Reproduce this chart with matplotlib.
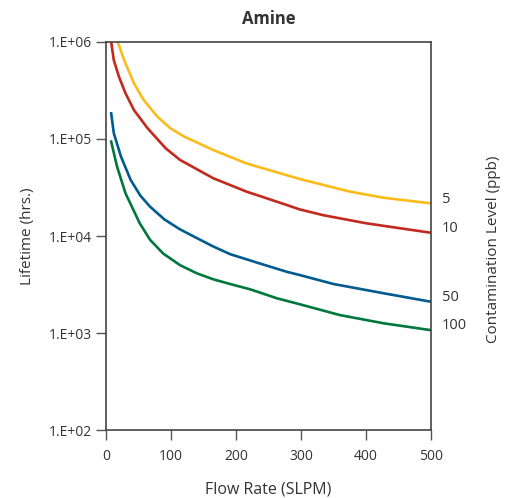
import matplotlib
matplotlib.use("Agg")
from matplotlib import pyplot as plt
from matplotlib.ticker import FixedLocator, NullLocator

plt.rcParams['font.family'] = ['Open Sans', 'DejaVu Sans']

# 5 ppb
x_5 = [18, 28, 43, 58, 79, 99, 120, 165, 216, 268, 298, 375, 427, 500]
y_5 = [1.0e6, 6.5e5, 3.75e5, 2.52e5, 1.7e5, 1.29e5, 1.06e5, 7.7e4, 5.6e4, 4.43e4, 3.87e4,
       2.87e4, 2.48e4, 2.17e4]
# 10 ppb
x_10 = [8, 12, 20, 30, 43, 64, 92, 114, 165, 216, 268, 298, 334, 401, 500]
y_10 = [1.0e6, 6.5e5, 4.38e5, 2.96e5, 1.99e5, 1.29e5, 8.0e4, 6.08e4, 3.94e4, 2.87e4, 2.2e4,
        1.88e4, 1.64e4, 1.35e4, 1.08e4]
# 50 ppb
x_50 = [8, 12, 23, 38, 53, 68, 90, 114, 140, 165, 191, 237, 278, 298, 350, 427, 500]
y_50 = [1.84e5, 1.15e5, 6.6e4, 3.78e4, 2.6e4, 2.0e4, 1.48e4, 1.17e4, 9.5e3, 7.8e3, 6.5e3,
        5.2e3, 4.28e3, 3.96e3, 3.2e3, 2.57e3, 2.1e3]
# 100 ppb
x_100 = [8, 17, 30, 52, 68, 88, 114, 140, 165, 191, 222, 263, 298, 360, 427, 500]
y_100 = [9.4e4, 5.2e4, 2.76e4, 1.35e4, 9.1e3, 6.6e3, 5.0e3, 4.12e3, 3.58e3, 3.2e3, 2.82e3,
         2.28e3, 1.98e3, 1.53e3, 1.26e3, 1.07e3]

levels = ["5", "10", "50", "100"]
colors = ["#FDBB1A", "#C32A1E", "#005B8E", "#00773D"]
series = [(x_5, y_5), (x_10, y_10), (x_50, y_50), (x_100, y_100)]

ytick_vals = [1e2, 1e3, 1e4, 1e5, 1e6]
ytick_labels = ["1.E+02", "1.E+03", "1.E+04", "1.E+05", "1.E+06"]
xtick_vals = [0, 100, 200, 300, 400, 500]

txt = "#333333"

fig = plt.figure(figsize=(5.11, 4.98), dpi=100)
ax = fig.add_axes([0.2074, 0.1365, 0.636, 0.7792])

for (xs, ys), c, lab in zip(series, colors, levels):
    ax.plot(xs, ys, color=c, lw=1.9, solid_joinstyle='round')
    ax.annotate(lab, xy=(500, ys[-1]), xytext=(8, 3), textcoords='offset points',
                ha='left', va='center', fontsize=10.5, color=txt, annotation_clip=False)

ax.set_yscale('log')
ax.set_xlim(0, 500)
ax.set_ylim(1e2, 1e6)
ax.yaxis.set_major_locator(FixedLocator(ytick_vals))
ax.yaxis.set_minor_locator(NullLocator())
ax.set_yticklabels(ytick_labels)
ax.set_xticks(xtick_vals)

for s in ax.spines.values():
    s.set_color("#444444")
    s.set_linewidth(1.2)
ax.tick_params(direction='out', length=7, width=1, color="#555555",
               labelsize=10, labelcolor=txt, pad=3)
ax.tick_params(axis='x', pad=7)

ax.set_title("Amine", fontsize=12, fontweight='bold', color=txt, pad=13)
ax.set_xlabel("Flow Rate (SLPM)", fontsize=11.5, color=txt, labelpad=12)
ax.set_ylabel("Lifetime (hrs.)", fontsize=11, color=txt, labelpad=10)
fig.text(0.965, 0.5, "Contamination Level (ppb)", rotation=90, ha='center', va='center',
         fontsize=11, color=txt)

plt.savefig("out.png", dpi=100)
